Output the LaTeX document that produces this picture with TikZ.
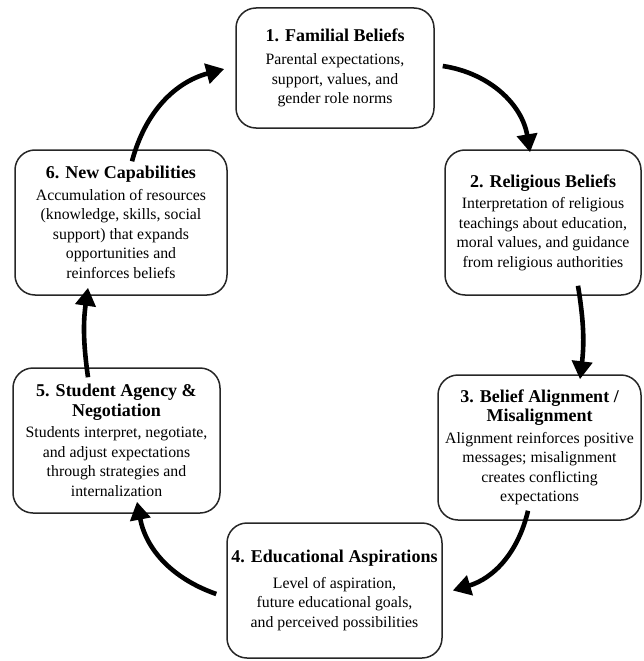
\documentclass[tikz,border=0pt]{standalone}
\usepackage{fontspec}
\setmainfont{Liberation Serif}
\usetikzlibrary{arrows.meta}
\tikzset{
  box/.style={draw=black!85, line width=1.5pt, rounded corners=20pt, align=center, inner sep=2pt,
    font=\fontsize{15.8}{19.5}\selectfont, fill=white},
  cyc/.style={line width=4.6pt, -{Triangle[length=18pt,width=20pt]}, bend left=#1}
}
\newcommand{\ttlfont}{\fontsize{18}{20.5}\selectfont\bfseries}
\begin{document}
\begin{tikzpicture}[x=1pt,y=-1pt]
\useasboundingbox (0,0) rectangle (643,661);
\node[box, minimum width=198pt, minimum height=120pt] (b1) at (335,68)
  {{\ttlfont 1. Familial Beliefs}\\[4pt]
   Parental expectations,\\ support, values, and\\ gender role norms};
\node[box, minimum width=196pt, minimum height=145pt] (b2) at (543,222.5)
  {{\ttlfont 2. Religious Beliefs}\\[2pt]
   Interpretation of religious\\ teachings about education,\\ moral values, and guidance\\ from religious authorities};
\node[box, minimum width=203pt, minimum height=145pt] (b3) at (539.5,447.5)
  {{\ttlfont 3. Belief Alignment /}\\{\ttlfont Misalignment}\\[2pt]
   Alignment reinforces positive\\ messages; misalignment\\ creates conflicting\\ expectations};
\node[box, minimum width=215pt, minimum height=135pt] (b4) at (334.5,590.5)
  {{\ttlfont 4. Educational Aspirations}\\[6pt]
   Level of aspiration,\\ future educational goals,\\ and perceived possibilities};
\node[box, minimum width=207pt, minimum height=145pt] (b5) at (116.5,440.5)
  {{\ttlfont 5. Student Agency \&}\\{\ttlfont Negotiation}\\[2pt]
   Students interpret, negotiate,\\ and adjust expectations\\ through strategies and\\ internalization};
\node[box, minimum width=212pt, minimum height=145pt] (b6) at (121,222.5)
  {{\ttlfont 6. New Capabilities}\\[2pt]
   Accumulation of resources\\ (knowledge, skills, social\\ support) that expands\\ opportunities and\\ reinforces beliefs};
\draw[cyc=36] ([xshift=8pt,yshift=2pt]b1.east) to ([xshift=-13pt,yshift=-3pt]b2.north);
\draw[cyc=8] ([xshift=35pt,yshift=10pt]b2.south) to ([xshift=40.5pt,yshift=-5pt]b3.north);
\draw[cyc=30] ([xshift=-11.5pt,yshift=10pt]b3.south) to ([xshift=10pt]b4.east);
\draw[cyc=30] ([xshift=-10pt,yshift=-3.5pt]b4.west) to ([xshift=20.5pt,yshift=12pt]b5.south);
\draw[cyc=8] ([xshift=-28.5pt,yshift=-10pt]b5.north) to ([xshift=-33pt,yshift=8pt]b6.south);
\draw[cyc=30] ([xshift=11pt,yshift=-12pt]b6.north) to ([xshift=-11pt,yshift=-1pt]b1.west);
\end{tikzpicture}
\end{document}
